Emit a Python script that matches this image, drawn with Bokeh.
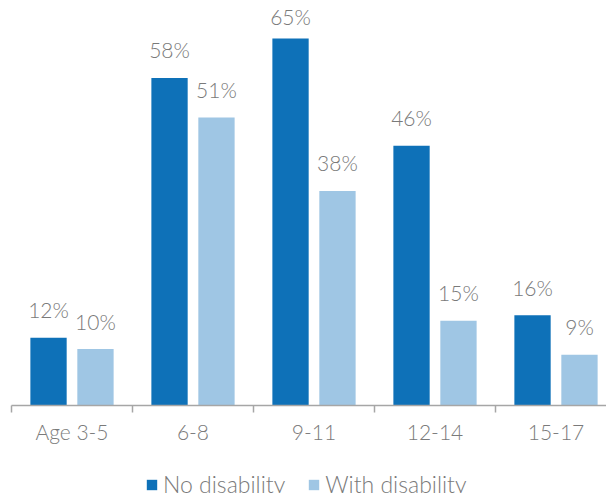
from bokeh.plotting import figure
from bokeh.layouts import column
from bokeh.models import Range1d, FixedTicker, ColumnDataSource, Legend, LegendItem
from bokeh.core.properties import value
from bokeh.embed import file_html
from bokeh.resources import INLINE

categories = ["Age 3-5", "6-8", "9-11", "12-14", "15-17"]
no_disability = [12, 58, 65, 46, 16]
with_disability = [10, 51, 38, 15, 9]
series_names = ["No disability", "With disability"]

DARK = "#0e71b8"
LIGHT = "#9fc6e4"
GREY = "#7a7a7a"
FONT = "Lato Light"

Y_MAX = 70.3
PX_PER_UNIT = 397 / Y_MAX

def label_y(v):
    # label sits above its bar, kept inside the plot area
    return min(v + 28 / PX_PER_UNIT, Y_MAX - 8 / PX_PER_UNIT)

centers = [i + 0.5 for i in range(len(categories))]
off = 0.194
src_a = ColumnDataSource(dict(x=[c - off for c in centers], top=no_disability,
                              ly=[label_y(v) for v in no_disability],
                              lbl=[f"{v}%" for v in no_disability]))
src_b = ColumnDataSource(dict(x=[c + off for c in centers], top=with_disability,
                              ly=[label_y(v) for v in with_disability],
                              lbl=[f"{v}%" for v in with_disability]))

p = figure(frame_width=595, frame_height=397, output_backend="svg", toolbar_location=None,
           x_range=Range1d(0, 595 / 121), y_range=Range1d(0, Y_MAX),
           min_border_left=11, min_border_right=0, min_border_top=8, min_border_bottom=0)
p.outline_line_color = None
p.grid.visible = False
p.yaxis.visible = False
p.background_fill_color = "white"
p.border_fill_color = "white"

p.vbar(x="x", top="top", width=0.30, bottom=0, source=src_a, fill_color=DARK, line_color=None)
p.vbar(x="x", top="top", width=0.30, bottom=0, source=src_b, fill_color=LIGHT, line_color=None)

for src in (src_a, src_b):
    p.text(x="x", y="ly", text="lbl", source=src, text_align="center", text_baseline="alphabetic",
           text_font=value(FONT), text_font_size="21px", text_color=GREY)

ax = p.xaxis[0]
ax.ticker = FixedTicker(ticks=centers, minor_ticks=[0, 1, 2, 3, 4, 5])
ax.major_label_overrides = {c: cat for c, cat in zip(centers, categories)}
ax.major_tick_line_color = None
ax.minor_tick_out = 7
ax.minor_tick_in = 0
ax.minor_tick_line_color = "#a6a6a6"
ax.minor_tick_line_width = 1.5
ax.axis_line_color = "#a6a6a6"
ax.axis_line_width = 1.5
ax.major_label_standoff = 6
ax.major_label_text_font = FONT
ax.major_label_text_font_size = "21px"
ax.major_label_text_color = GREY

# legend strip under the chart (key renderers sit outside its visible range)
lg = figure(width=606, height=50, output_backend="svg", toolbar_location=None,
            x_range=Range1d(0, 1), y_range=Range1d(0, 1),
            min_border_left=0, min_border_right=0, min_border_top=0, min_border_bottom=0)
lg.axis.visible = False
lg.grid.visible = False
lg.outline_line_color = None
k_a = lg.vbar(x=[-10], top=[0], width=0.3, fill_color=DARK, line_color=None)
k_b = lg.vbar(x=[-10], top=[0], width=0.3, fill_color=LIGHT, line_color=None)

legend = Legend(items=[LegendItem(label=series_names[0], renderers=[k_a]),
                       LegendItem(label=series_names[1], renderers=[k_b])],
                orientation="horizontal", location=(134, -2),
                label_text_font=FONT, label_text_font_size="23px", label_text_color=GREY,
                glyph_width=13, glyph_height=13, label_standoff=5, spacing=22,
                padding=0, margin=0, border_line_color=None, background_fill_alpha=0)
lg.add_layout(legend)

open("out.html", "w").write(file_html(column(p, lg, spacing=0), INLINE))
